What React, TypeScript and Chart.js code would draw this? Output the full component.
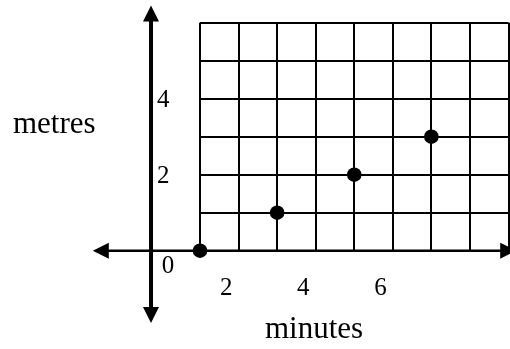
import React, { useEffect, useRef } from "react";
import { Chart, registerables } from "chart.js";

Chart.register(...registerables);

// ---- data ----
const minutesValues = [0, 2, 4, 6];
const metresValues = [0, 1, 2, 3];
const xTickLabels = ["2", "4", "6"];
const yTickLabels = ["2", "4"];
const X_MAX = 8;
const Y_MAX = 6;
const xTitle = "minutes";
const yTitle = "metres";
const originLabel = "0";

const FONT = "'Liberation Serif', 'Times New Roman', serif";
const TICK_SIZE = 25;
const TITLE_SIZE = 31;

const axesPlugin = {
  id: "arrowAxes",
  beforeDatasetsDraw(chart: any) {
    const { ctx } = chart;
    const xs = chart.scales.x;
    const ys = chart.scales.y;
    const px = (v: number) => xs.getPixelForValue(v);
    const py = (v: number) => ys.getPixelForValue(v);
    const head = 16;
    const half = 8;
    ctx.save();
    ctx.strokeStyle = "#000";
    ctx.fillStyle = "#000";

    // horizontal axis with arrows
    const hy = py(0);
    const hx0 = px(-2.78);
    const hx1 = px(8.2);
    ctx.lineWidth = 2.5;
    ctx.beginPath();
    ctx.moveTo(hx0 + head - 1, hy);
    ctx.lineTo(hx1 - head + 1, hy);
    ctx.stroke();
    ctx.beginPath();
    ctx.moveTo(hx0, hy);
    ctx.lineTo(hx0 + head, hy - half);
    ctx.lineTo(hx0 + head, hy + half);
    ctx.closePath();
    ctx.fill();
    ctx.beginPath();
    ctx.moveTo(hx1, hy);
    ctx.lineTo(hx1 - head, hy - half);
    ctx.lineTo(hx1 - head, hy + half);
    ctx.closePath();
    ctx.fill();

    // vertical axis with arrows
    const vx = px(-1.27);
    const vTop = py(6.45);
    const vBot = py(-1.9);
    ctx.lineWidth = 4;
    ctx.beginPath();
    ctx.moveTo(vx, vTop + head - 1);
    ctx.lineTo(vx, vBot - head + 1);
    ctx.stroke();
    ctx.beginPath();
    ctx.moveTo(vx, vTop);
    ctx.lineTo(vx - half, vTop + head);
    ctx.lineTo(vx + half, vTop + head);
    ctx.closePath();
    ctx.fill();
    ctx.beginPath();
    ctx.moveTo(vx, vBot);
    ctx.lineTo(vx - half, vBot - head);
    ctx.lineTo(vx + half, vBot - head);
    ctx.closePath();
    ctx.fill();

    // texts
    ctx.font = `${TICK_SIZE}px ${FONT}`;
    ctx.textAlign = "center";
    ctx.textBaseline = "middle";
    ctx.fillText(originLabel, vx + 17, hy + 16);

    ctx.font = `${TITLE_SIZE}px ${FONT}`;
    ctx.textAlign = "left";
    ctx.textBaseline = "alphabetic";
    ctx.fillText(yTitle, 13, 133);
    ctx.fillText(xTitle, 265, 338);
    ctx.restore();
  },
};

export default function App() {
  const ref = useRef<HTMLCanvasElement | null>(null);

  useEffect(() => {
    if (!ref.current) return;
    const chart = new Chart(ref.current, {
      type: "scatter",
      data: {
        datasets: [
          {
            data: minutesValues.map((m, i) => ({ x: m, y: metresValues[i] })),
            backgroundColor: "#000",
            borderColor: "#000",
            borderWidth: 0,
            pointRadius: 7.3,
            pointHoverRadius: 7.3,
            clip: false as any,
          },
        ],
      },
      options: {
        animation: false,
        responsive: false,
        maintainAspectRatio: false,
        events: [],
        layout: { autoPadding: false, padding: { left: 157, top: 22.7, right: 1.5, bottom: 0 } },
        plugins: {
          legend: { display: false },
          tooltip: { enabled: false },
          title: { display: false },
        },
        scales: {
          x: {
            type: "linear",
            min: 0,
            max: X_MAX,
            afterFit: (s: any) => {
              s.height = 98.3;
              s.paddingLeft = 0;
              s.paddingRight = 0;
            },
            border: { display: false },
            grid: {
              color: "#000",
              lineWidth: 2,
              drawTicks: true,
              tickLength: 22.8,
              tickColor: "rgba(0,0,0,0)",
            },
            ticks: {
              stepSize: 1,
              autoSkip: false,
              maxRotation: 0,
              padding: 0,
              labelOffset: -51,
              color: "#000",
              font: { family: FONT, size: TICK_SIZE },
              callback: (v: any) => (xTickLabels.includes(String(v)) ? String(v) : ""),
            },
          },
          y: {
            type: "linear",
            min: 0,
            max: Y_MAX,
            afterFit: (s: any) => {
              s.width = 43;
            },
            border: { display: false },
            grid: { color: "#000", lineWidth: 2, drawTicks: false },
            ticks: {
              stepSize: 1,
              autoSkip: false,
              crossAlign: "far",
              labelOffset: 1.5,
              color: "#000",
              font: { family: FONT, size: TICK_SIZE },
              callback: (v: any) => (yTickLabels.includes(String(v)) ? String(v) : ""),
            },
          },
        },
      },
      plugins: [axesPlugin],
    });
    return () => chart.destroy();
  }, []);

  return (
    <div style={{ position: "fixed", left: 0, top: 0, width: 510, height: 349, background: "#fff" }}>
      <canvas ref={ref} width={510} height={349} style={{ display: "block" }} />
    </div>
  );
}
